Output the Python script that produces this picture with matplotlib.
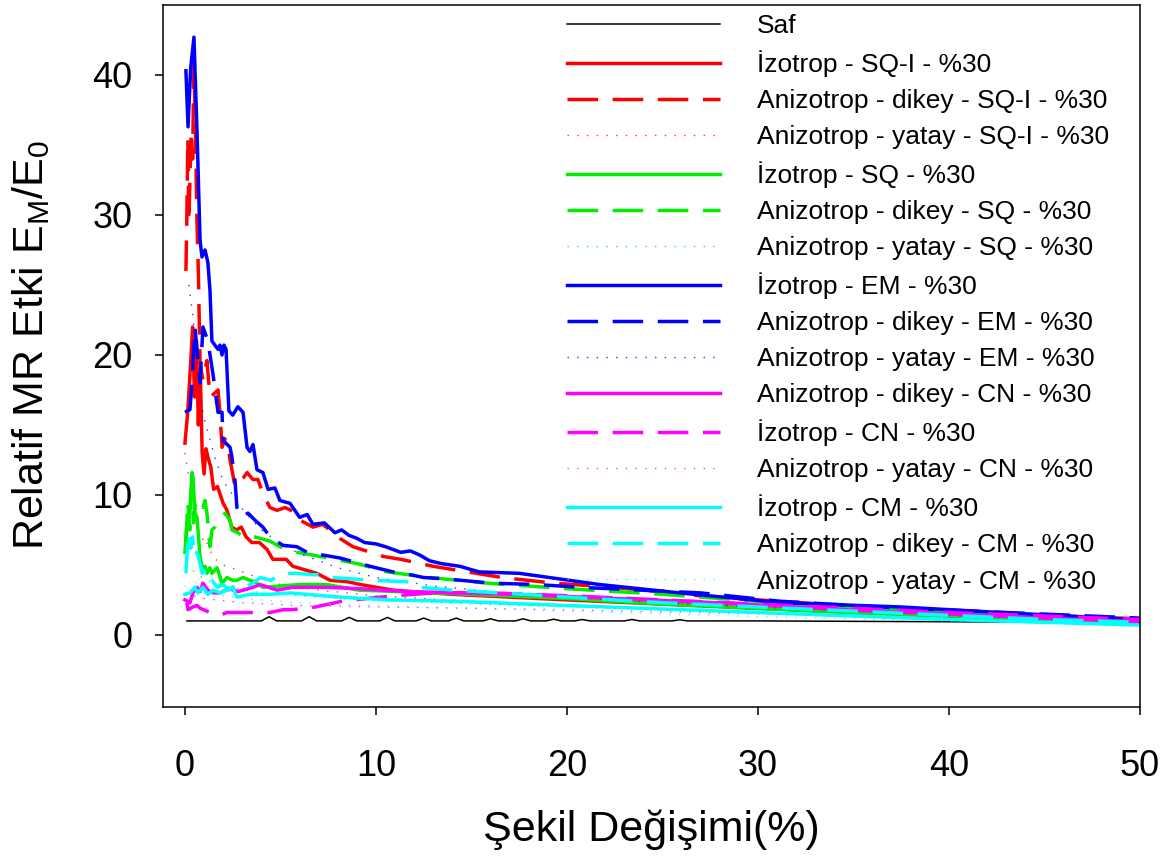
import matplotlib
matplotlib.use("Agg")
import matplotlib.pyplot as plt

plt.rcParams['font.family'] = ['Liberation Sans', 'DejaVu Sans']
plt.rcParams['mathtext.default'] = 'regular'

# ---------------- data ----------------
labels = ['Saf',
          'İzotrop - SQ-I - %30',
          'Anizotrop - dikey - SQ-I - %30',
          'Anizotrop - yatay - SQ-I - %30',
          'İzotrop - SQ - %30',
          'Anizotrop - dikey - SQ - %30',
          'Anizotrop - yatay - SQ - %30',
          'İzotrop - EM - %30',
          'Anizotrop - dikey - EM - %30',
          'Anizotrop - yatay - EM - %30',
          'Anizotrop - dikey - CN - %30',
          'İzotrop - CN - %30',
          'Anizotrop - yatay - CN - %30',
          'İzotrop - CM - %30',
          'Anizotrop - dikey - CM - %30',
          'Anizotrop - yatay - CM - %30']

saf_x = [0.1, 4.0, 4.4, 4.8, 6.1, 6.5, 6.9, 8.2, 8.6, 9.0, 10.2, 10.6, 11.0,
         12.1, 12.5, 12.9, 13.8, 14.2, 14.6, 15.6, 16.0, 16.4, 17.3, 17.7, 18.1,
         18.9, 19.3, 19.7, 20.4, 20.8, 21.2, 23.0, 23.4, 23.8, 25.5, 25.9, 26.3,
         30.0, 35.0, 40.0, 45.0, 50.0]
saf_y = [1.0, 1.0, 1.3, 1.0, 1.0, 1.3, 1.0, 1.0, 1.25, 1.0, 1.0, 1.25, 1.0,
         1.0, 1.2, 1.0, 1.0, 1.2, 1.0, 1.0, 1.15, 1.0, 1.0, 1.15, 1.0,
         1.0, 1.12, 1.0, 1.0, 1.1, 1.0, 1.0, 1.1, 1.0, 1.0, 1.08, 1.0,
         1.0, 0.97, 0.94, 0.9, 0.86]

sqi_iz_x = [0.0, 0.15, 0.3, 0.4, 0.5, 0.6, 0.7, 0.8, 0.9, 1.0, 1.1, 1.2, 1.35,
            1.5, 1.7, 2.0, 2.2, 2.45, 2.7, 2.95, 3.2, 3.5, 3.9, 4.3, 4.6, 5.3,
            5.65, 6.4, 6.9, 7.6, 8.5, 9.2, 10.0, 10.9, 11.8, 14.0, 17.0, 20.0,
            25.0, 30.0, 35.0, 40.0, 45.0, 50.0]
sqi_iz_y = [13.7, 16.0, 19.5, 22.0, 17.0, 21.0, 15.0, 19.0, 13.0, 11.5, 13.3,
            12.7, 12.0, 10.4, 10.6, 9.4, 8.9, 7.7, 7.5, 7.7, 7.0, 6.6, 6.6, 6.1,
            5.4, 5.4, 4.9, 4.6, 4.4, 3.9, 3.8, 3.6, 3.4, 3.2, 3.1, 2.9, 2.7, 2.5,
            2.2, 1.9, 1.6, 1.35, 1.15, 0.95]

sqi_dk_x = [0.05, 0.1, 0.15, 0.2, 0.27, 0.33, 0.4, 0.47, 0.55, 0.62, 0.7, 0.79,
            0.94, 1.05, 1.15, 1.31, 1.5, 1.73, 1.83, 1.94, 2.1, 2.25, 2.36, 2.46,
            2.62, 2.72, 3.04, 3.25, 3.56, 3.82, 4.08, 4.45, 4.82, 5.24, 5.86,
            6.02, 6.7, 7.2, 7.59, 8.1, 8.8, 10.4, 11.3, 13.0, 16.6, 19.3, 22.4,
            25.5, 27.6, 31.2, 35.0, 40.0, 45.0, 50.0]
sqi_dk_y = [26.0, 30.0, 35.5, 29.5, 33.0, 36.0, 34.0, 41.0, 36.0, 30.0, 26.0,
            19.4, 18.2, 19.0, 19.6, 17.0, 17.2, 17.5, 15.9, 13.4, 14.0, 13.6,
            12.5, 11.8, 10.6, 10.9, 11.2, 11.6, 11.1, 11.1, 10.1, 9.1, 8.9, 9.1,
            8.7, 8.2, 7.7, 7.9, 7.5, 6.9, 6.3, 5.6, 5.4, 4.9, 4.1, 3.7, 3.4,
            3.0, 2.7, 2.4, 2.05, 1.7, 1.4, 1.15]

sqi_yt_x = [0.0, 0.2, 0.4, 0.6, 0.8, 1.0, 1.5, 2.0, 3.0, 4.0, 5.0, 7.0, 10.0,
            15.0, 20.0, 30.0, 40.0, 50.0]
sqi_yt_y = [13.0, 11.3, 10.6, 8.0, 6.5, 7.0, 5.5, 5.0, 4.5, 4.0, 3.6, 3.2, 2.8,
            2.4, 2.1, 1.6, 1.2, 0.8]

sq_iz_x = [0.0, 0.1, 0.16, 0.26, 0.37, 0.42, 0.52, 0.63, 0.79, 0.94, 1.05, 1.15,
           1.3, 1.41, 1.68, 1.94, 2.2, 2.5, 2.72, 3.04, 3.4, 3.66, 4.08, 5.0,
           6.0, 7.4, 9.1, 11.0, 13.0, 15.0, 20.0, 25.0, 30.0, 35.0, 40.0, 45.0,
           50.0]
sq_iz_y = [5.9, 8.0, 7.7, 9.1, 11.6, 11.3, 8.7, 8.4, 5.6, 4.6, 4.9, 4.4, 4.8,
           4.4, 4.8, 3.7, 4.1, 3.9, 3.9, 4.1, 3.9, 3.8, 3.4, 3.5, 3.6, 3.6, 3.2,
           3.1, 3.0, 2.9, 2.6, 2.2, 1.9, 1.6, 1.35, 1.1, 0.9]

sq_dk_x = [0.05, 0.15, 0.25, 0.35, 0.45, 0.55, 0.8, 0.94, 1.05, 1.15, 1.31,
           1.41, 1.57, 1.68, 2.1, 2.36, 2.46, 2.77, 3.04, 3.4, 3.92, 4.45, 4.97,
           5.86, 6.7, 9.0, 10.6, 12.8, 15.8, 20.0, 25.0, 30.0, 35.0, 40.0, 45.0,
           50.0]
sq_dk_y = [6.5, 9.5, 7.5, 10.5, 8.0, 9.5, 9.6, 9.1, 9.6, 8.7, 6.3, 7.5, 7.7,
           8.0, 8.7, 8.2, 7.5, 7.3, 7.0, 7.1, 6.9, 6.7, 6.3, 5.9, 5.7, 5.1, 4.5,
           4.1, 3.7, 3.3, 2.9, 2.4, 2.0, 1.7, 1.4, 1.1]

sq_yt_x = [0.0, 0.5, 1.0, 2.0, 4.0, 8.0, 15.0, 25.0, 35.0, 50.0]
sq_yt_y = [5.0, 4.5, 4.0, 3.5, 3.0, 2.6, 2.2, 1.8, 1.4, 0.9]

em_iz_x = [0.05, 0.16, 0.3, 0.47, 0.63, 0.79, 0.89, 1.05, 1.2, 1.31, 1.41, 1.57,
           1.73, 1.83, 1.94, 2.04, 2.15, 2.3, 2.5, 2.77, 3.04, 3.25, 3.4, 3.56,
           3.77, 4.08, 4.35, 4.71, 4.97, 5.5, 6.0, 6.4, 6.7, 7.3, 7.85, 8.2,
           8.6, 9.0, 9.4, 10.0, 10.5, 11.3, 11.8, 12.3, 12.8, 13.4, 14.4, 15.4,
           17.5, 21.7, 25.9, 31.2, 37.4, 42.7, 50.0]
em_iz_y = [40.3, 36.3, 40.5, 42.7, 36.0, 28.2, 27.0, 27.5, 26.6, 24.6, 21.0,
           20.7, 20.4, 20.7, 20.0, 20.7, 20.4, 16.0, 15.7, 16.3, 15.9, 13.4,
           13.1, 13.6, 11.8, 11.6, 10.4, 10.5, 9.6, 9.4, 8.4, 8.6, 7.9, 8.0,
           7.3, 7.5, 7.1, 6.9, 6.6, 6.5, 6.3, 5.9, 6.0, 5.7, 5.3, 5.1, 4.9, 4.5,
           4.4, 3.6, 3.0, 2.3, 2.0, 1.6, 1.07]

em_dk_x = [0.0, 0.26, 0.37, 0.42, 0.52, 0.79, 0.94, 1.2, 1.47, 1.73, 1.94,
           1.99, 2.36, 2.46, 2.62, 2.72, 2.98, 3.3, 3.66, 4.08, 4.45, 5.13,
           5.86, 6.39, 7.23, 8.1, 9.16, 9.69, 10.9, 11.8, 12.5, 13.7, 16.0,
           18.4, 20.7, 27.0, 31.2, 37.0, 43.0, 50.0]
em_dk_y = [15.9, 16.1, 18.0, 19.4, 22.0, 18.0, 22.0, 21.0, 18.6, 15.9, 15.9,
           13.9, 13.4, 12.7, 11.0, 9.1, 8.4, 8.7, 8.2, 7.7, 7.0, 6.4, 6.3, 5.9,
           5.7, 5.5, 5.1, 4.9, 4.5, 4.3, 4.1, 4.0, 3.7, 3.6, 3.4, 3.0, 2.4,
           1.95, 1.6, 1.2]

em_yt_x = [0.2, 0.4, 0.6, 0.8, 1.0, 1.3, 1.6, 2.0, 2.5, 3.0, 3.5, 4.0, 5.0,
           6.0, 8.0, 10.0, 13.0, 16.0, 20.0, 25.0, 30.0, 35.0, 40.0, 45.0, 50.0]
em_yt_y = [25.0, 23.0, 20.0, 17.0, 15.5, 14.0, 12.5, 11.0, 10.0, 9.0, 8.2, 7.5,
           6.5, 5.8, 4.8, 4.1, 3.5, 3.1, 2.7, 2.3, 2.0, 1.7, 1.4, 1.1, 0.9]

cn_dk_x = [0.0, 0.26, 0.42, 0.63, 0.8, 0.94, 1.2, 1.47, 1.83, 2.3, 2.8, 3.56,
           3.93, 4.82, 5.65, 7.43, 9.16, 11.6, 14.4, 17.2, 20.8, 24.3, 27.8,
           32.0, 36.0, 40.0, 45.0, 50.0]
cn_dk_y = [2.5, 2.3, 3.0, 3.4, 3.1, 3.7, 3.2, 3.0, 3.0, 3.3, 3.1, 3.4, 3.6,
           3.2, 3.4, 3.4, 3.3, 3.1, 3.0, 2.9, 2.7, 2.5, 2.3, 2.0, 1.7, 1.5,
           1.2, 0.95]

cn_iz_x = [0.1, 0.16, 0.42, 0.63, 0.8, 1.31, 1.83, 2.2, 2.72, 3.0, 3.93, 4.45,
           5.13, 5.5, 6.5, 8.2, 9.5, 11.0, 13.0, 16.0, 20.0, 25.0, 30.0, 35.0,
           40.0, 45.0, 50.0]
cn_iz_y = [2.3, 1.8, 2.0, 2.1, 1.9, 1.6, 1.4, 1.6, 1.6, 1.6, 1.6, 1.6, 1.8,
           1.8, 1.9, 2.4, 2.6, 2.8, 3.0, 3.0, 2.8, 2.5, 2.2, 1.9, 1.6, 1.35, 1.1]

cn_yt_x = [0.0, 1.0, 3.0, 6.0, 10.0, 15.0, 20.0, 30.0, 40.0, 50.0]
cn_yt_y = [3.0, 2.6, 2.3, 2.1, 2.0, 1.9, 1.8, 1.5, 1.1, 0.8]

cm_iz_x = [0.0, 0.26, 0.52, 0.68, 0.94, 1.2, 1.47, 1.83, 2.2, 2.51, 2.72, 3.4,
           4.45, 5.5, 8.1, 10.7, 14.2, 18.0, 22.0, 26.0, 30.0, 35.0, 40.0,
           45.0, 50.0]
cm_iz_y = [2.9, 3.0, 3.4, 3.0, 3.4, 2.9, 3.2, 3.0, 3.2, 3.4, 2.7, 2.9, 2.9,
           3.0, 2.7, 2.5, 2.4, 2.2, 2.0, 1.8, 1.6, 1.35, 1.1, 0.9, 0.7]

cm_dk_x = [0.05, 0.12, 0.2, 0.3, 0.4, 0.5, 0.63, 0.79, 0.9, 1.0, 1.15, 1.4,
           1.7, 2.0, 2.3, 2.6, 3.0, 3.56, 3.93, 4.5, 5.13, 5.8, 6.7, 7.2, 7.7,
           9.8, 11.6, 12.3, 14.0, 16.5, 20.0, 25.0, 30.0, 35.0, 40.0, 45.0,
           50.0]
cm_dk_y = [4.4, 6.0, 7.3, 6.2, 7.0, 5.6, 5.9, 5.1, 4.4, 4.6, 3.7, 3.9, 3.4,
           3.6, 3.2, 3.5, 3.3, 3.7, 4.1, 3.9, 4.4, 4.4, 4.3, 4.3, 4.1, 3.9, 3.8,
           3.4, 3.2, 3.0, 2.7, 2.3, 2.0, 1.7, 1.4, 1.1, 0.9]

cm_yt_x = [0.0, 1.0, 3.0, 6.0, 10.0, 15.0, 20.0, 30.0, 40.0, 50.0]
cm_yt_y = [3.5, 3.0, 2.6, 2.3, 2.1, 1.9, 1.7, 1.3, 1.0, 0.7]

series_x = [saf_x, sqi_iz_x, sqi_dk_x, sqi_yt_x, sq_iz_x, sq_dk_x, sq_yt_x,
            em_iz_x, em_dk_x, em_yt_x, cn_dk_x, cn_iz_x, cn_yt_x,
            cm_iz_x, cm_dk_x, cm_yt_x]
series_y = [saf_y, sqi_iz_y, sqi_dk_y, sqi_yt_y, sq_iz_y, sq_dk_y, sq_yt_y,
            em_iz_y, em_dk_y, em_yt_y, cn_dk_y, cn_iz_y, cn_yt_y,
            cm_iz_y, cm_dk_y, cm_yt_y]

x_ticks = [0, 10, 20, 30, 40, 50]
y_ticks = [0, 10, 20, 30, 40]

# ---------------- styles ----------------
colors = ['black', '#ff0000', '#ff0000', '#ff0000', '#00ee00', '#00ee00',
          '#00ee00', '#0000ff', '#0000ff', '#0000ff', '#ff00ff', '#ff00ff',
          '#ff00ff', '#00ffff', '#00ffff', '#00ffff']
kinds = ['thin', 'solid', 'dash', 'dot', 'solid', 'dash', 'dot', 'solid',
         'dash', 'dot', 'solid', 'dash', 'dot', 'solid', 'dash', 'dot']

fig = plt.figure(figsize=(11.68, 8.56), dpi=100)
ax = fig.add_axes([163/1168, 1 - 707/856, (1140-163)/1168, (707-5)/856])

for xs, ys, c, k, lab in zip(series_x, series_y, colors, kinds, labels):
    n = min(len(xs), len(ys))
    if k == 'thin':
        ax.plot(xs[:n], ys[:n], color=c, lw=1.1, label=lab)
    elif k == 'solid':
        ax.plot(xs[:n], ys[:n], color=c, lw=2.5, label=lab)
    elif k == 'dash':
        ax.plot(xs[:n], ys[:n], color=c, lw=2.5, dashes=(8.8, 4.2), label=lab)
    else:
        ax.plot(xs[:n], ys[:n], color=c, lw=1.0, dashes=(1, 6), alpha=0.8,
                label=lab)

ax.set_xlim(-1.15, 50)
ax.set_ylim(-5.15, 45)
ax.set_xticks(x_ticks)
ax.set_yticks(y_ticks)
ax.tick_params(axis='both', direction='out', length=6, width=1.1,
               labelsize=26, top=False, right=False)
ax.tick_params(axis='y', pad=16)
ax.tick_params(axis='x', pad=24)
for sp in ax.spines.values():
    sp.set_linewidth(1.1)

ax.set_xlabel('Şekil Değişimi(%)', fontsize=31)
ax.xaxis.label.set_va('center')
ax.xaxis.set_label_coords(0.5, (707 - 830) / 702)
ax.set_ylabel(r'Relatif MR Etki E$_{M}$/E$_{0}$', fontsize=31)
ax.yaxis.label.set_va('center')
ax.yaxis.set_label_coords((31 - 163) / 977, (707 - 345) / 702)

leg = ax.legend(loc='upper left', bbox_to_anchor=(567/1168, 1 - 14/856),
                bbox_transform=fig.transFigure, frameon=False, fontsize=19,
                handlelength=5.8, handletextpad=1.4, labelspacing=0.46,
                borderpad=0, borderaxespad=0)

fig.savefig('out.png', dpi=100)
